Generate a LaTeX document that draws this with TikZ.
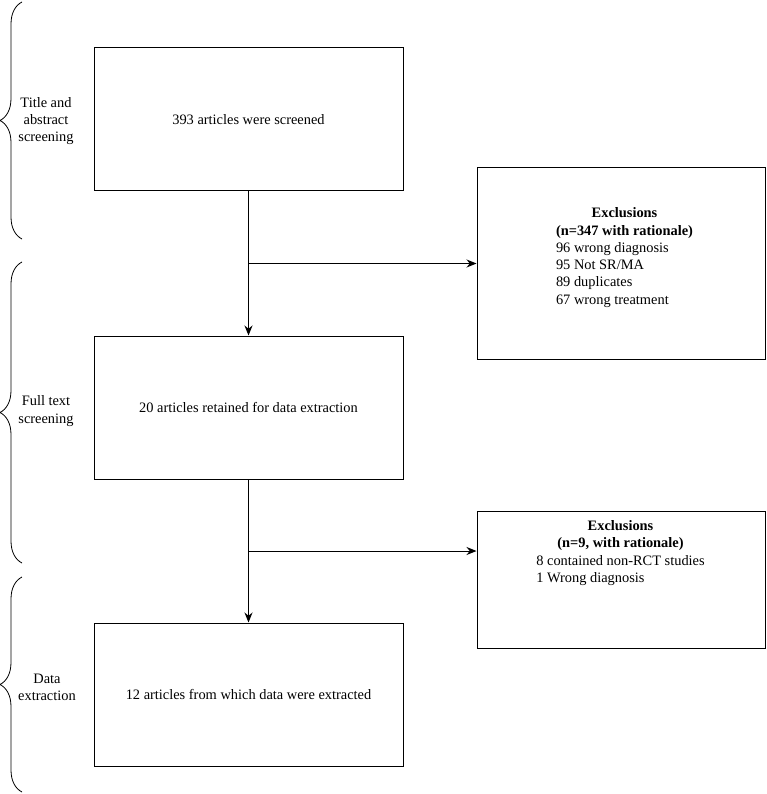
\documentclass[tikz,border=0pt]{standalone}
\usepackage{fontspec}
\setmainfont{Liberation Serif}
\usetikzlibrary{calc,arrows.meta,decorations.pathreplacing}

\begin{document}
\begin{tikzpicture}[
  x=1pt, y=-1pt,
  box/.style={draw, line width=1pt, minimum width=309pt, minimum height=143pt,
    inner sep=0pt, font=\fontsize{14.4}{17.3}\selectfont},
  exbox/.style={draw, line width=1pt, minimum width=288pt, inner sep=0pt},
  extext/.style={font=\fontsize{14.4}{17.3}\selectfont, inner sep=0pt},
  stagelabel/.style={font=\fontsize{14.4}{17.3}\selectfont, align=center, inner sep=0pt},
  arrow/.style={->, >={Stealth[length=10pt, width=8pt]}, line width=1pt},
  stagebrace/.style={decorate, decoration={brace, amplitude=22pt}, line width=0.8pt}
]
\useasboundingbox (0,0) rectangle (766,794);

% Main boxes (top to bottom)
\node[box] (screened) at (248.5, 119.5) {393 articles were screened};
\node[box] (retained) at (248.5, 407.5) {20 articles retained for data extraction};
\node[box] (extracted) at (248.5, 694.5) {12 articles from which data were extracted};

% Exclusion boxes
\node[exbox, minimum height=191pt] (excl1) at (621, 263.5) {};
\node[extext] (excl1txt) at (624.5, 257.5)
  {\begin{tabular}{@{}l@{}}
   \multicolumn{1}{@{}c@{}}{\textbf{Exclusions}}\\
   \multicolumn{1}{@{}c@{}}{\textbf{(n=347 with rationale)}}\\
   96 wrong diagnosis\\ 95 Not SR/MA\\ 89 duplicates\\ 67 wrong treatment
   \end{tabular}};
\node[exbox, minimum height=137pt] (excl2) at (621, 579.5) {};
\node[extext] (excl2txt) at (620.5, 553)
  {\begin{tabular}{@{}l@{}}
   \multicolumn{1}{@{}c@{}}{\textbf{Exclusions}}\\
   \multicolumn{1}{@{}c@{}}{\textbf{(n=9, with rationale)}}\\
   8 contained non-RCT studies\\ 1 Wrong diagnosis
   \end{tabular}};

% Arrows down the column, with branches to the exclusions
\coordinate (split1) at ($(screened.south)!0.5!(retained.north)$);
\coordinate (split2) at ($(retained.south)!0.5!(extracted.north)$);
\draw[arrow] (screened.south) -- (retained.north);
\draw[arrow] (split1) -- (split1 -| excl1.west);
\draw[arrow] (retained.south) -- (extracted.north);
\draw[arrow] (split2) -- (split2 -| excl2.west);

% Stages on the left
\coordinate (s1top) at (22, 2);
\coordinate (s1bot) at (22, 239);
\coordinate (s2top) at (22, 262);
\coordinate (s2bot) at (22, 563);
\coordinate (s3top) at (22, 577);
\coordinate (s3bot) at (22, 792);
\draw[stagebrace] (s1bot) -- (s1top);
\draw[stagebrace] (s2bot) -- (s2top);
\draw[stagebrace] (s3bot) -- (s3top);
\node[stagelabel] (stage1) at (46, 121) {Title and\\ abstract\\ screening};
\node[stagelabel] (stage2) at (46, 411) {Full text\\ screening};
\node[stagelabel] (stage3) at (47, 687) {Data\\ extraction};

\end{tikzpicture}
\end{document}
